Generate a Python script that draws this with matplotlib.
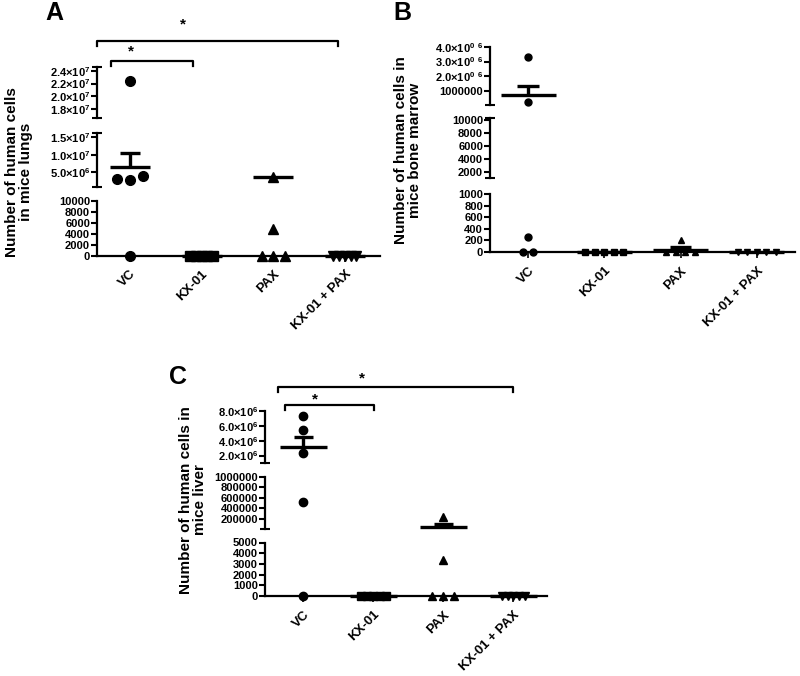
import numpy as np
import matplotlib.pyplot as plt
from matplotlib.transforms import blended_transform_factory

plt.rcParams['font.family'] = ['Liberation Sans', 'DejaVu Sans']
plt.rcParams['font.weight'] = 'bold'
plt.rcParams['mathtext.default'] = 'regular'

W, H = 800, 676

groups = ["VC", "KX-01", "PAX", "KX-01 + PAX"]
markers = ["o", "s", "^", "v"]

# A: lungs
lungs_vc = [2.24e7, 3.0e6, 2.9e6, 3.9e6, 0]
lungs_kx = [0, 0, 0, 0, 0]
lungs_pax = [3.7e6, 4800, 0, 0, 0]
lungs_combo = [0, 0, 0, 0, 0]
lungs_mean = [6.5e6, 0, 3.7e6, 0]
lungs_sem = [4.0e6, 0, 0, 0]

# B: bone marrow
marrow_vc = [3.3e6, 2.3e5, 256, 0, 0]
marrow_kx = [0, 0, 0, 0, 0]
marrow_pax = [207, 0, 0, 0, 0]
marrow_combo = [0, 0, 0, 0, 0]
marrow_mean = [7.0e5, 0, 41, 0]
marrow_sem = [6.4e5, 0, 41, 0]

# C: liver
liver_vc = [7.3e6, 5.4e6, 2.4e6, 5.2e5, 0]
liver_kx = [0, 0, 0, 0, 0]
liver_pax = [2.3e5, 3400, 0, 0, 0]
liver_combo = [0, 0, 0, 0, 0]
liver_mean = [3.12e6, 0, 4.67e4, 0]
liver_sem = [1.41e6, 0, 4.6e4, 0]

# y-axis segments: (low, high, ticks, tick labels)
lungs_segs = [
    (0, 10000, [0, 2000, 4000, 6000, 8000, 10000],
     ["0", "2000", "4000", "6000", "8000", "10000"]),
    (0.8e6, 1.62e7, [5e6, 1e7, 1.5e7],
     ["5.0×10$^{6}$", "1.0×10$^{7}$", "1.5×10$^{7}$"]),
    (1.669e7, 2.462e7, [1.8e7, 2.0e7, 2.2e7, 2.4e7],
     ["1.8×10$^{7}$", "2.0×10$^{7}$", "2.2×10$^{7}$", "2.4×10$^{7}$"]),
]
marrow_segs = [
    (0, 1000, [0, 200, 400, 600, 800, 1000],
     ["0", "200", "400", "600", "800", "1000"]),
    (1000, 10300, [2000, 4000, 6000, 8000, 10000],
     ["2000", "4000", "6000", "8000", "10000"]),
    (1e4, 4e6, [1e6, 2e6, 3e6, 4e6],
     ["1000000", "2.0×10$^{0}$ $^{6}$", "3.0×10$^{0}$ $^{6}$", "4.0×10$^{0}$ $^{6}$"]),
]
liver_segs = [
    (0, 5000, [0, 1000, 2000, 3000, 4000, 5000],
     ["0", "1000", "2000", "3000", "4000", "5000"]),
    (5000, 1e6, [2e5, 4e5, 6e5, 8e5, 1e6],
     ["200000", "400000", "600000", "800000", "1000000"]),
    (1e6, 8e6, [2e6, 4e6, 6e6, 8e6],
     ["2.0×10$^{6}$", "4.0×10$^{6}$", "6.0×10$^{6}$", "8.0×10$^{6}$"]),
]

fig = plt.figure(figsize=(W / 100, H / 100), dpi=100)


def px_axes(left, top, right, bottom):
    return fig.add_axes([left / W, 1 - bottom / H, (right - left) / W, (bottom - top) / H])


def draw_panel(segs, seg_px, x_left, x_right, xlim, data, means, sems,
               msize, spread, mean_w):
    axes = []
    for k, ((lo, hi, ticks, labels), (pb, pt)) in enumerate(zip(segs, seg_px)):
        ax = px_axes(x_left, pt, x_right, pb)
        ax.set_xlim(xlim)
        ax.set_ylim(lo, hi)
        ax.patch.set_visible(False)
        for s in ["top", "right", "bottom"]:
            ax.spines[s].set_visible(False)
        ax.spines["left"].set_linewidth(1.6)
        ax.set_yticks(ticks, labels)
        ends = [hi] if k == 0 else [lo, hi]
        ax.set_yticks(ends, minor=True)
        ax.tick_params(axis="y", which="major", length=4, width=1.5,
                       labelsize=8, pad=1)
        ax.tick_params(axis="y", which="minor", direction="inout", length=7, width=1.5)
        ax.set_xticks([])
        axes.append(ax)

        px_per_val = (pb - pt) / (hi - lo)
        tol = abs(hi - lo) * 1e-6
        for i, vals in enumerate(data):
            inside = [v for v in vals if lo - tol <= v <= hi + tol]
            if not inside:
                continue
            # spread points that sit on top of each other
            clusters = []
            for v in inside:
                for c in clusters:
                    if abs(c[0] - v) * px_per_val < msize * 1.2:
                        c.append(v)
                        break
                else:
                    clusters.append([v])
            for c in clusters:
                n = len(c)
                offs = (np.arange(n) - (n - 1) / 2) * spread[i]
                ax.plot(i + offs, c, linestyle="none", marker=markers[i],
                        color="black", markersize=msize, clip_on=False, zorder=3)
        for i, (m, e) in enumerate(zip(means, sems)):
            if lo - tol <= m <= hi + tol:
                ax.hlines(m, i - mean_w / 2, i + mean_w / 2, color="black",
                          lw=2.4, clip_on=False, zorder=4)
                if e > 0:
                    ax.vlines(i, m, m + e, color="black", lw=2.4, zorder=4)
                    ax.hlines(m + e, i - 0.14, i + 0.14, color="black", lw=2.4, zorder=4)

    bot = axes[0]
    bot.spines["bottom"].set_visible(True)
    bot.spines["bottom"].set_linewidth(1.6)
    bot.set_xticks(range(len(groups)), groups, rotation=45, ha="right",
                   rotation_mode="anchor", fontsize=9.5)
    bot.tick_params(axis="x", length=4, width=1.2, pad=5)
    return axes


def bracket(ax, x0, x1, py, star_x, star_py):
    tr = blended_transform_factory(ax.transData, fig.transFigure)
    y = 1 - py / H
    yd = 1 - (py + 5) / H
    ax.plot([x0, x0, x1, x1], [yd, y, y, yd], transform=tr, color="black",
            lw=1.6, clip_on=False)
    ax.text(star_x, 1 - (star_py + 7) / H, "*", transform=tr, ha="center",
            va="baseline", fontsize=11)


# panel A
axA = draw_panel(lungs_segs, [(255.5, 201), (187, 133), (117.7, 66.7)],
                 97, 380, (-0.46, 3.49),
                 [lungs_vc, lungs_kx, lungs_pax, lungs_combo], lungs_mean, lungs_sem,
                 msize=7, spread=[0.18, 0.08, 0.16, 0.08], mean_w=0.56)
bracket(axA[2], -0.46, 2.9, 40.7, 0.74, 21.7)
bracket(axA[2], -0.27, 0.88, 61, 0.02, 48.3)
fig.text(45 / W, 1 - 1 / H, "A", fontsize=18, fontweight="bold", ha="left", va="top")
fig.text(19 / W, 1 - 172 / H, "Number of human cells\nin mice lungs", rotation=90,
         ha="center", va="center", fontsize=11, linespacing=1.0)

# panel B
axB = draw_panel(marrow_segs, [(252, 194), (178, 118), (105, 47)],
                 490, 795, (-0.5, 3.5),
                 [marrow_vc, marrow_kx, marrow_pax, marrow_combo], marrow_mean, marrow_sem,
                 msize=5, spread=[0.125, 0.125, 0.125, 0.125], mean_w=0.72)
fig.text(393 / W, 1 - 1 / H, "B", fontsize=18, fontweight="bold", ha="left", va="top")
fig.text(408 / W, 1 - 150 / H, "Number of human cells in\nmice bone marrow", rotation=90,
         ha="center", va="center", fontsize=11, linespacing=1.0)

# panel C
axC = draw_panel(liver_segs, [(596, 542.5), (529, 476.5), (463, 411)],
                 265, 547, (-0.55, 3.48),
                 [liver_vc, liver_kx, liver_pax, liver_combo], liver_mean, liver_sem,
                 msize=6, spread=[0.15, 0.09, 0.157, 0.08], mean_w=0.67)
bracket(axC[2], -0.37, 3.0, 386.7, 0.83, 375)
bracket(axC[2], -0.26, 1.01, 405, 0.17, 396.7)
fig.text(169 / W, 1 - 365 / H, "C", fontsize=18, fontweight="bold", ha="left", va="top")
fig.text(193 / W, 1 - 500 / H, "Number of human cells in\nmice liver", rotation=90,
         ha="center", va="center", fontsize=11, linespacing=1.0)

fig.savefig("out.png", dpi=100)
